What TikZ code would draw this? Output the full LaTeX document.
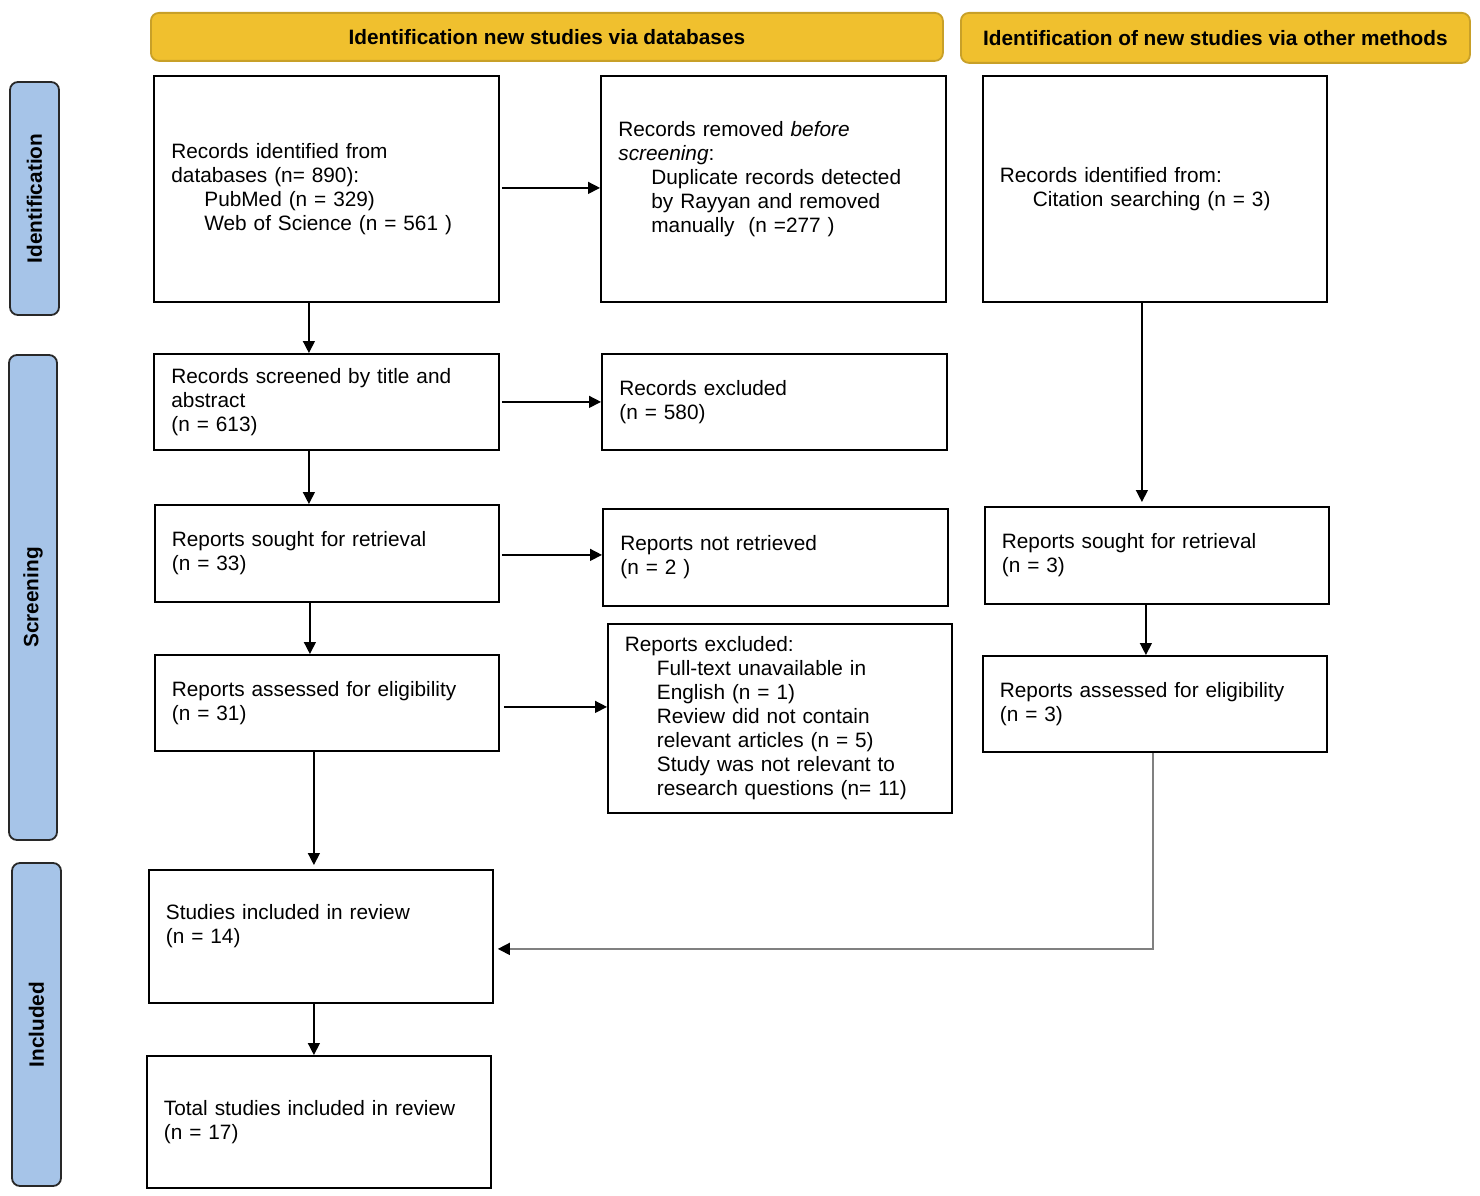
\documentclass[tikz,border=0pt]{standalone}
\usepackage{fontspec}
\setmainfont{Liberation Sans}
\usetikzlibrary{arrows.meta,calc}
\definecolor{hdrfill}{RGB}{240,192,46}
\definecolor{hdrline}{RGB}{200,160,40}
\definecolor{sidefill}{RGB}{166,196,232}
\definecolor{sideline}{RGB}{40,40,40}
\definecolor{grayline}{RGB}{128,128,128}
\begin{document}
\begin{tikzpicture}[x=1pt,y=-1pt,
 box/.style={draw=black, line width=1.8pt, anchor=north west, align=left, inner xsep=17pt, inner ysep=0pt, text width=310pt, font=\fontsize{20.8}{24}\selectfont},
 hdr/.style={draw=hdrline, fill=hdrfill, line width=1.8pt, rounded corners=8pt, font=\fontsize{20.8}{24}\selectfont\bfseries, anchor=north west, inner sep=0pt},
 side/.style={draw=sideline, fill=sidefill, line width=1.8pt, rounded corners=8pt, rotate=90, font=\fontsize{20.8}{24}\selectfont\bfseries, inner sep=0pt},
 arr/.style={line width=1.4pt, -{Triangle[length=12pt,width=12pt]}},
 garr/.style={line width=1.6pt, draw=grayline, -{Triangle[length=12pt,width=12pt,color=black]}},
]
\useasboundingbox (0,0) rectangle (1480,1196);
% headers
\node[hdr, minimum width=792pt, minimum height=48pt] (h1) at (150,12) {Identification new studies via databases};
\node[hdr, minimum width=509pt, minimum height=50pt] (h2) at (960,12) {Identification of new studies via other methods};
% side labels
\node[side, minimum width=233pt, minimum height=49pt] (s1) at (34.5,198.5) {Identification};
\node[side, minimum width=485pt, minimum height=48pt] (s2) at (33,597.5) {Screening};
\node[side, minimum width=323pt, minimum height=49pt] (s3) at (36.5,1024.5) {Included};
% boxes
\node[box, minimum width=345pt, minimum height=226pt] (b1) at (153,75) {Records identified from\\databases (n= 890):\\\hspace*{33pt}PubMed (n = 329)\\\hspace*{33pt}Web of Science (n = 561 )};
\node[box, minimum width=345pt, minimum height=226pt] (b2) at (600,75) {Records removed \textit{before}\\\textit{screening}:\\\hspace*{33pt}Duplicate records detected\\\hspace*{33pt}by Rayyan and removed\\\hspace*{33pt}manually\ \ (n =277 )\\\mbox{}};
\node[box, minimum width=344pt, minimum height=226pt] (b3) at (982,75) {Records identified from:\\\hspace*{33pt}Citation searching (n = 3)};
\node[box, minimum width=345pt, minimum height=96pt] (b4) at (153,353) {Records screened by title and\\abstract\\(n = 613)};
\node[box, minimum width=345pt, minimum height=96pt] (b5) at (601,353) {Records excluded\\(n = 580)};
\node[box, minimum width=344pt, minimum height=97pt] (b6) at (154,504) {Reports sought for retrieval\\(n = 33)};
\node[box, minimum width=345pt, minimum height=97pt] (b7) at (602,508) {Reports not retrieved\\(n = 2 )};
\node[box, minimum width=344pt, minimum height=97pt] (b8) at (984,506) {Reports sought for retrieval\\(n = 3)};
\node[box, minimum width=344pt, minimum height=96pt] (b9) at (154,654) {Reports assessed for eligibility\\(n = 31)};
\node[box, minimum width=344pt, minimum height=189pt] (b10) at (607,623) {Reports excluded:\\\hspace*{32pt}Full-text unavailable in\\\hspace*{32pt}English (n = 1)\\\hspace*{32pt}Review did not contain\\\hspace*{32pt}relevant articles (n = 5)\\\hspace*{32pt}Study was not relevant to\\\hspace*{32pt}research questions (n= 11)};
\node[box, minimum width=344pt, minimum height=96pt] (b11) at (982,655) {Reports assessed for eligibility\\(n = 3)};
\node[box, minimum width=344pt, minimum height=133pt] (b12) at (148,869) {Studies included in review\\(n = 14)\\\mbox{}};
\node[box, minimum width=344pt, minimum height=132pt] (b13) at (146,1055) {Total studies included in review\\(n = 17)};
% connectors
\draw[arr, shorten <=2pt] ([yshift=1pt]b1.east) -- ([yshift=1pt]b2.west);
\draw[arr] ([xshift=-17.5pt]b1.south) -- ([xshift=-17.5pt]b4.north);
\draw[arr, shorten <=2pt] (b4.east) -- (b5.west);
\draw[arr] ([xshift=-17.5pt]b4.south) -- ([xshift=-18pt]b6.north);
\draw[arr, shorten <=2pt] ([yshift=-1.5pt]b6.east) -- ([yshift=2.5pt]b7.west);
\draw[arr] ([xshift=-17pt]b6.south) -- ([xshift=-17pt]b9.north);
\draw[arr, shorten <=4pt] ([yshift=-4pt]b9.east) -- ([yshift=11.5pt]b10.west);
\draw[arr, shorten >=4pt] ([xshift=-13pt]b9.south) -- ([xshift=-7pt]b12.north);
\draw[arr] ([xshift=-7pt]b12.south) -- ([xshift=-5pt]b13.north);
\draw[arr, shorten >=4pt] ([xshift=-13pt]b3.south) -- ([xshift=-15pt]b8.north);
\draw[arr] ([xshift=-11pt]b8.south) -- ([xshift=-9pt]b11.north);
\draw[garr, shorten >=4pt] ([xshift=-2pt]b11.south) |- ([yshift=-12.5pt]b12.east);
\end{tikzpicture}
\end{document}
